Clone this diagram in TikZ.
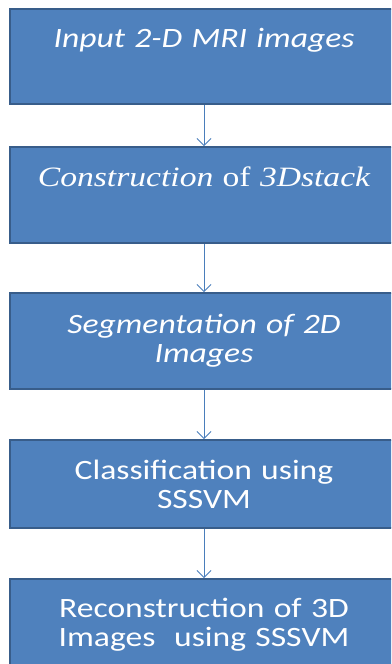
\documentclass[tikz,border=0pt]{standalone}
\usepackage{fontspec}
\setmainfont{Carlito}[FakeStretch=1.2]
\newfontfamily\serifstep{Liberation Serif}[FakeStretch=1.2]
\usetikzlibrary{positioning,arrows.meta}
\definecolor{boxblue}{HTML}{4F81BD}
\definecolor{boxedge}{HTML}{385D8A}
\definecolor{linkblue}{HTML}{4A7EBB}

\begin{document}
\begin{tikzpicture}[x=1pt,y=1pt,
  stepbox/.style={draw=boxedge,line width=2pt,fill=boxblue,text=white,
    minimum width=388pt,text width=380pt,align=center,inner sep=0pt,
    font=\fontsize{28}{29}\selectfont},
  link/.style={linkblue,line width=0.8pt,-{Straight Barb[length=7pt,width=14pt]}}]
\useasboundingbox (0,0) rectangle (391,-664);
\clip (0,0) rectangle (391,-664);
% Draw the five steps
\node[stepbox,minimum height=95pt,anchor=north west] (input) at (9,-8)
  {\itshape Input 2-D MRI images\\ \strut};
\node[stepbox,minimum height=96pt,below=41pt of input] (stack)
  {\serifstep{\itshape Construction} of {\itshape 3Dstack}\\ \strut};
\node[stepbox,minimum height=96pt,below=48pt of stack] (segment)
  {\itshape Segmentation of 2D\\ Images};
\node[stepbox,minimum height=88pt,below=49pt of segment] (classify)
  {Classification using\\ SSSVM};
\node[stepbox,minimum height=92pt,below=49pt of classify] (rebuild)
  {Reconstruction of 3D\\ Images\ \ using SSSVM};
% Draw the arrows
\draw[link] (input) -- (stack);
\draw[link] (stack) -- (segment);
\draw[link] (segment) -- (classify);
\draw[link] (classify) -- (rebuild);
\end{tikzpicture}
\end{document}
